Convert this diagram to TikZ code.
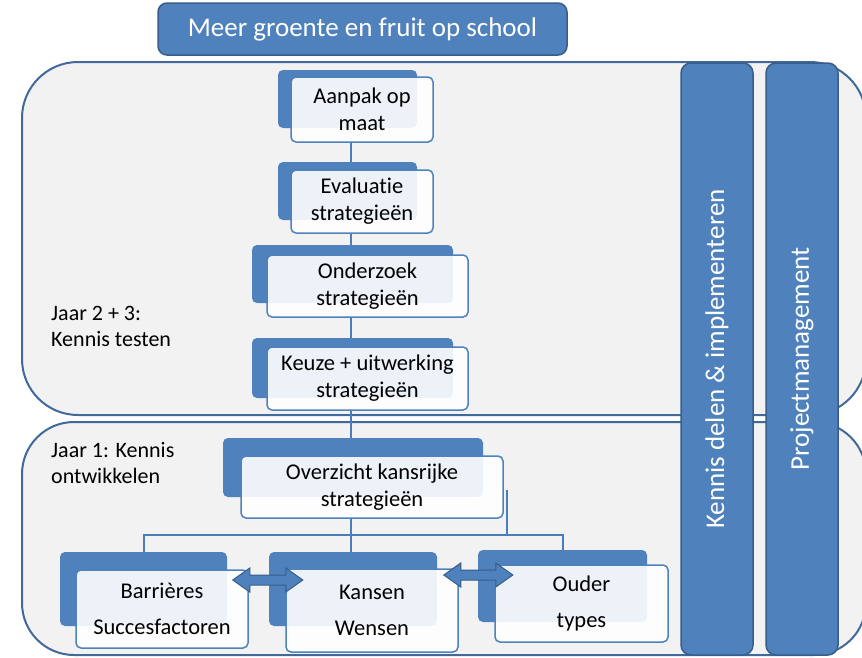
\documentclass[tikz,border=0pt]{standalone}
\usepackage{fontspec}
\setmainfont{Carlito}[Ligatures=NoCommon]
\usepackage{tikz}
\usetikzlibrary{calc}
\definecolor{stepblue}{HTML}{4F81BD}
\definecolor{baredge}{HTML}{385D8A}
\definecolor{panelgray}{HTML}{F2F2F2}
\definecolor{paneledge}{HTML}{41699A}
\definecolor{frontedge}{HTML}{4F81BD}
\definecolor{linkblue}{HTML}{4A7EBB}
\pgfdeclarelayer{panels}
\pgfdeclarelayer{links}
\pgfsetlayers{panels,links,main}
\tikzset{
    panel/.style={
        draw=paneledge,
        fill=panelgray,
        line width=2pt,
        minimum width=844pt,
        inner sep=0pt
    },
    sidebar/.style={
        draw=baredge,
        fill=stepblue,
        line width=1.5pt,
        rounded corners=10pt,
        rotate=90,
        minimum width=592pt,
        minimum height=72pt,
        text=white,
        font=\fontsize{27}{32}\selectfont,
        inner sep=0pt
    },
    titlebox/.style={
        draw=baredge,
        fill=stepblue,
        line width=1.5pt,
        rounded corners=9pt,
        minimum width=409pt,
        minimum height=52pt,
        text=white,
        font=\fontsize{27}{32}\selectfont
    },
    stepback/.style={fill=stepblue, rounded corners=5pt, inner sep=0pt},
    stepfront/.style={
        draw=frontedge,
        line width=1.5pt,
        fill=white,
        fill opacity=0.9,
        text opacity=1,
        rounded corners=5pt,
        align=center,
        inner sep=0pt,
        font=\fontsize{22.5}{27}\selectfont
    },
    lowerfront/.style={stepfront, font=\fontsize{22.5}{36}\selectfont},
    yearlabel/.style={align=left, anchor=north west, inner sep=0pt, font=\fontsize{22}{26.5}\selectfont},
    link/.style={draw=linkblue, line width=2pt},
    swapshape/.style={draw=baredge, fill=stepblue, line width=1pt, line join=miter}
}
\begin{document}
\begin{tikzpicture}[x=1pt, y=-1pt]
    \useasboundingbox (0,0) rectangle (862,657);

    \begin{pgfonlayer}{panels}
        \node[panel, rounded corners=56pt, minimum height=353pt] (testpanel) at (444,238.5) {};
        \node[panel, rounded corners=52pt, minimum height=233pt] (buildpanel) at (444,538.5) {};
        \node[sidebar] (sharebar) at (717,359) {Kennis delen \& implementeren};
        \node[sidebar] (managebar) at (802,359) {Projectmanagement};
    \end{pgfonlayer}

    \node[titlebox] (goal) at (362.5,29) {Meer groente en fruit op school};

    \node[yearlabel] (testlabel) at (51,306) {Jaar 2 + 3:\\Kennis testen};
    \node[yearlabel] (buildlabel) at (51,442) {Jaar 1: Kennis\\ontwikkelen};

    \node[stepback, minimum width=139pt, minimum height=58pt] (aanpakback) at (347.5,99) {};
    \node[stepfront, minimum width=142pt, minimum height=65pt] (aanpak) at (362,109.5) {Aanpak op\\maat};
    \node[stepback, minimum width=139pt, minimum height=58pt] (evaluatieback) at (347.5,191) {};
    \node[stepfront, minimum width=142pt, minimum height=63pt] (evaluatie) at (362,201.5) {Evaluatie\\strategieën};
    \node[stepback, minimum width=201pt, minimum height=58pt] (onderzoekback) at (352.5,274) {};
    \node[stepfront, minimum width=201pt, minimum height=62pt] (onderzoek) at (367.5,286) {Onderzoek\\strategieën};
    \node[stepback, minimum width=201pt, minimum height=60pt] (keuzeback) at (352.5,368) {};
    \node[stepfront, minimum width=201pt, minimum height=63pt] (keuze) at (367.5,378.5) {Keuze + uitwerking\\strategieën};
    \node[stepback, minimum width=260pt, minimum height=59pt] (overzichtback) at (353,467.5) {};
    \node[stepfront, minimum width=262pt, minimum height=62pt] (overzicht) at (372,487) {Overzicht kansrijke\\strategieën};

    \node[stepback, minimum width=167pt, minimum height=74pt] (barriereback) at (143.5,589) {};
    \node[lowerfront, minimum width=172pt, minimum height=78pt] (barriere) at (162,609) {Barrières\\Succesfactoren};
    \node[stepback, minimum width=168pt, minimum height=74pt] (kansenback) at (353,589) {};
    \node[lowerfront, minimum width=172pt, minimum height=83pt] (kansen) at (372,610.5) {Kansen\\Wensen};
    \node[stepback, minimum width=169pt, minimum height=72pt] (ouderback) at (562.5,586) {};
    \node[lowerfront, minimum width=173pt, minimum height=77pt] (ouder) at (581.5,603.5) {Ouder\\types};

    % double arrows between the three inventories
    \coordinate (swapleftA) at (barriere.east |- 0,580);
    \coordinate (swapleftB) at (kansenback.west |- 0,580);
    \coordinate (swaprightA) at (kansen.east |- 0,575);
    \coordinate (swaprightB) at (ouderback.west |- 0,575);
    \draw[swapshape] ($(swapleftA)+(-16,0)$) -- ++(17,-12) -- ++(0,7) -- ($(swapleftB)+(17,-5)$) -- ++(0,-7)
        -- ($(swapleftB)+(34,0)$) -- ++(-17,12) -- ++(0,-7) -- ($(swapleftA)+(1,5)$) -- ++(0,7) -- cycle;
    \draw[swapshape] ($(swaprightA)+(-15,0)$) -- ++(17,-12) -- ++(0,7) -- ($(swaprightB)+(18,-5)$) -- ++(0,-7)
        -- ($(swaprightB)+(35,0)$) -- ++(-17,12) -- ++(0,-7) -- ($(swaprightA)+(2,5)$) -- ++(0,7) -- cycle;

    \coordinate (spine) at (351,0);
    \coordinate (branch) at (0,535);
    \coordinate (stub) at (507,490);
    \begin{pgfonlayer}{links}
        \draw[link] (spine |- aanpak.south) -- (spine |- evaluatieback.north);
        \draw[link] (spine |- evaluatie.south) -- (spine |- onderzoekback.north);
        \draw[link] (spine |- onderzoek.south) -- (spine |- keuzeback.north);
        \draw[link] (spine |- keuze.south) -- (spine |- overzichtback.north);
        \draw[link] (spine |- overzicht.south) -- (spine |- kansenback.north);
        \draw[link] (barriereback.north) -- (barriereback.north |- branch) -- (ouderback.north |- branch) -- (ouderback.north);
        \draw[link] (stub) -- (stub |- branch);
    \end{pgfonlayer}
\end{tikzpicture}
\end{document}
